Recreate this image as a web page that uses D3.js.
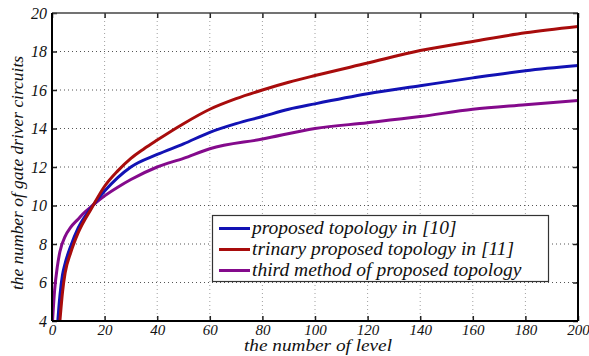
<!DOCTYPE html>
<html>
<head>
<meta charset="utf-8">
<script src="https://cdn.jsdelivr.net/npm/d3@7/dist/d3.min.js"></script>
</head>
<body style="margin:0">
<svg id="chart" width="589" height="356"></svg>
<script>
// Number of levels and gate driver circuit counts for each topology
const levelsA = [2, 3, 4, 5, 7, 10, 15, 20, 25, 30, 40, 50, 60, 70, 80, 90, 100, 120, 140, 160, 180, 200];
const driversA = [3.6, 5.3, 6.4, 7.0, 7.85, 8.85, 9.9, 10.75, 11.45, 12.0, 12.65, 13.2, 13.8, 14.25, 14.62, 15.0, 15.28, 15.8, 16.22, 16.63, 17.0, 17.27];

const levelsB = [2.5, 3, 4, 5, 7, 10, 15, 20, 25, 30, 35, 40, 50, 60, 70, 80, 90, 100, 120, 140, 160, 180, 200];
const driversB = [3.2, 4.0, 5.5, 6.5, 7.5, 8.6, 9.85, 11.0, 11.8, 12.45, 12.95, 13.4, 14.25, 15.0, 15.55, 16.0, 16.4, 16.75, 17.4, 18.05, 18.52, 18.97, 19.3];

const levelsC = [0.2, 1, 2, 3, 5, 7, 10, 12, 15, 20, 25, 30, 40, 50, 60, 80, 100, 120, 140, 160, 180, 200];
const driversC = [4.0, 5.6, 6.8, 7.6, 8.4, 8.85, 9.3, 9.6, 9.95, 10.5, 10.95, 11.35, 12.0, 12.45, 12.95, 13.45, 14.0, 14.3, 14.62, 15.0, 15.23, 15.45];

const seriesNames = ["proposed topology in [10]", "trinary proposed topology in [11]", "third method of proposed topology"];
const seriesColors = ["#1212b4", "#a80c0c", "#840a8c"];

const xTicks = [0, 20, 40, 60, 80, 100, 120, 140, 160, 180, 200];
const yTicks = [4, 6, 8, 10, 12, 14, 16, 18, 20];

const xTitle = "the number of level";
const yTitle = "the number of gate driver circuits";

const svg = d3.select("#chart");
const m = { left: 52, right: 11, top: 13, bottom: 35 };
const W = 589, H = 356;
const iw = W - m.left - m.right, ih = H - m.top - m.bottom;

const x = d3.scaleLinear().domain([0, 200]).range([m.left, m.left + iw]);
const y = d3.scaleLinear().domain([4, 20]).range([m.top + ih, m.top]);

svg.append("defs").append("clipPath").attr("id", "plot")
  .append("rect").attr("x", m.left).attr("y", m.top).attr("width", iw).attr("height", ih);

// serif italic text
function serif(sel, size) {
  sel.attr("style", `font-family: "Liberation Serif"; font-style: italic; font-size: ${size}px`);
}

// dotted grid
const grid = svg.append("g");
grid.selectAll(".gx").data(xTicks.slice(1, -1)).join("line")
  .attr("x1", d => x(d)).attr("x2", d => x(d))
  .attr("y1", m.top).attr("y2", m.top + ih)
  .attr("stroke", "#a0a0a0").attr("stroke-width", 1).attr("stroke-dasharray", "1,3");
grid.selectAll(".gy").data(yTicks.slice(1, -1)).join("line")
  .attr("y1", d => y(d)).attr("y2", d => y(d))
  .attr("x1", m.left).attr("x2", m.left + iw)
  .attr("stroke", "#555").attr("stroke-width", 1).attr("stroke-dasharray", "1,3");

// axes with inward ticks
const fmt = d3.format("d");
const xAxis = svg.append("g").attr("transform", `translate(0,${m.top + ih})`)
  .call(d3.axisBottom(x).tickValues(xTicks).tickSize(-5).tickPadding(4).tickFormat(fmt));
const xAxisTop = svg.append("g").attr("transform", `translate(0,${m.top})`)
  .call(d3.axisTop(x).tickValues(xTicks).tickSize(-5).tickFormat(""));
const yAxis = svg.append("g").attr("transform", `translate(${m.left},0)`)
  .call(d3.axisLeft(y).tickValues(yTicks).tickSize(-5).tickPadding(5).tickFormat(fmt));
const yAxisRight = svg.append("g").attr("transform", `translate(${m.left + iw},0)`)
  .call(d3.axisRight(y).tickValues(yTicks).tickSize(-5).tickFormat(""));

[xAxis, xAxisTop, yAxis, yAxisRight].forEach(g => {
  g.attr("font-family", null).attr("font-size", null);
  g.select(".domain").remove();
  g.selectAll(".tick line").attr("stroke", "#222").attr("stroke-width", 1.5);
  g.selectAll(".tick text").call(serif, 16).attr("fill", "#111");
});
xAxis.selectAll(".tick text").call(serif, 15).attr("y", 0).attr("dy", 0).attr("transform", "translate(0,14)");

// data lines
const line = d3.line().x(d => x(d[0])).y(d => y(d[1])).curve(d3.curveMonotoneX);
const data = [
  d3.zip(levelsA, driversA),
  d3.zip(levelsB, driversB),
  d3.zip(levelsC, driversC)
];
const lines = svg.append("g").attr("clip-path", "url(#plot)");
[2, 0, 1].forEach(i => {
  lines.append("path").datum(data[i])
    .attr("d", line).attr("fill", "none")
    .attr("stroke", seriesColors[i]).attr("stroke-width", 3)
    .attr("stroke-linejoin", "round");
});

// frame
svg.append("line").attr("x1", m.left).attr("x2", m.left + iw).attr("y1", m.top).attr("y2", m.top)
  .attr("stroke", "#444").attr("stroke-width", 1.5);
svg.append("line").attr("x1", m.left).attr("x2", m.left + iw).attr("y1", m.top + ih).attr("y2", m.top + ih)
  .attr("stroke", "#000").attr("stroke-width", 2);
svg.append("line").attr("x1", m.left).attr("x2", m.left).attr("y1", m.top).attr("y2", m.top + ih)
  .attr("stroke", "#000").attr("stroke-width", 2);
svg.append("line").attr("x1", m.left + iw).attr("x2", m.left + iw).attr("y1", m.top).attr("y2", m.top + ih)
  .attr("stroke", "#000").attr("stroke-width", 2);

// axis titles
svg.append("text").attr("x", 318).attr("y", 351)
  .attr("text-anchor", "middle").call(serif, 16).attr("fill", "#111")
  .attr("textLength", 148).attr("lengthAdjust", "spacingAndGlyphs")
  .text(xTitle);
svg.append("text")
  .attr("transform", `translate(23,${m.top + ih / 2 + 6}) rotate(-90)`)
  .attr("text-anchor", "middle").call(serif, 17).attr("fill", "#111")
  .attr("textLength", 234).attr("lengthAdjust", "spacingAndGlyphs")
  .text(yTitle);

// legend
const lg = svg.append("g");
lg.append("rect").attr("x", 212.5).attr("y", 215.5).attr("width", 336).attr("height", 66)
  .attr("fill", "#fff").attr("stroke", "#333").attr("stroke-width", 1.2);
seriesNames.forEach((name, i) => {
  const cy = 228.5 + i * 21;
  lg.append("line").attr("x1", 219).attr("x2", 250).attr("y1", cy).attr("y2", cy)
    .attr("stroke", seriesColors[i]).attr("stroke-width", 3);
  lg.append("text").attr("x", 252).attr("y", cy + 5).call(serif, 19.5).attr("fill", "#111")
    .text(name);
});
</script>
</body>
</html>
